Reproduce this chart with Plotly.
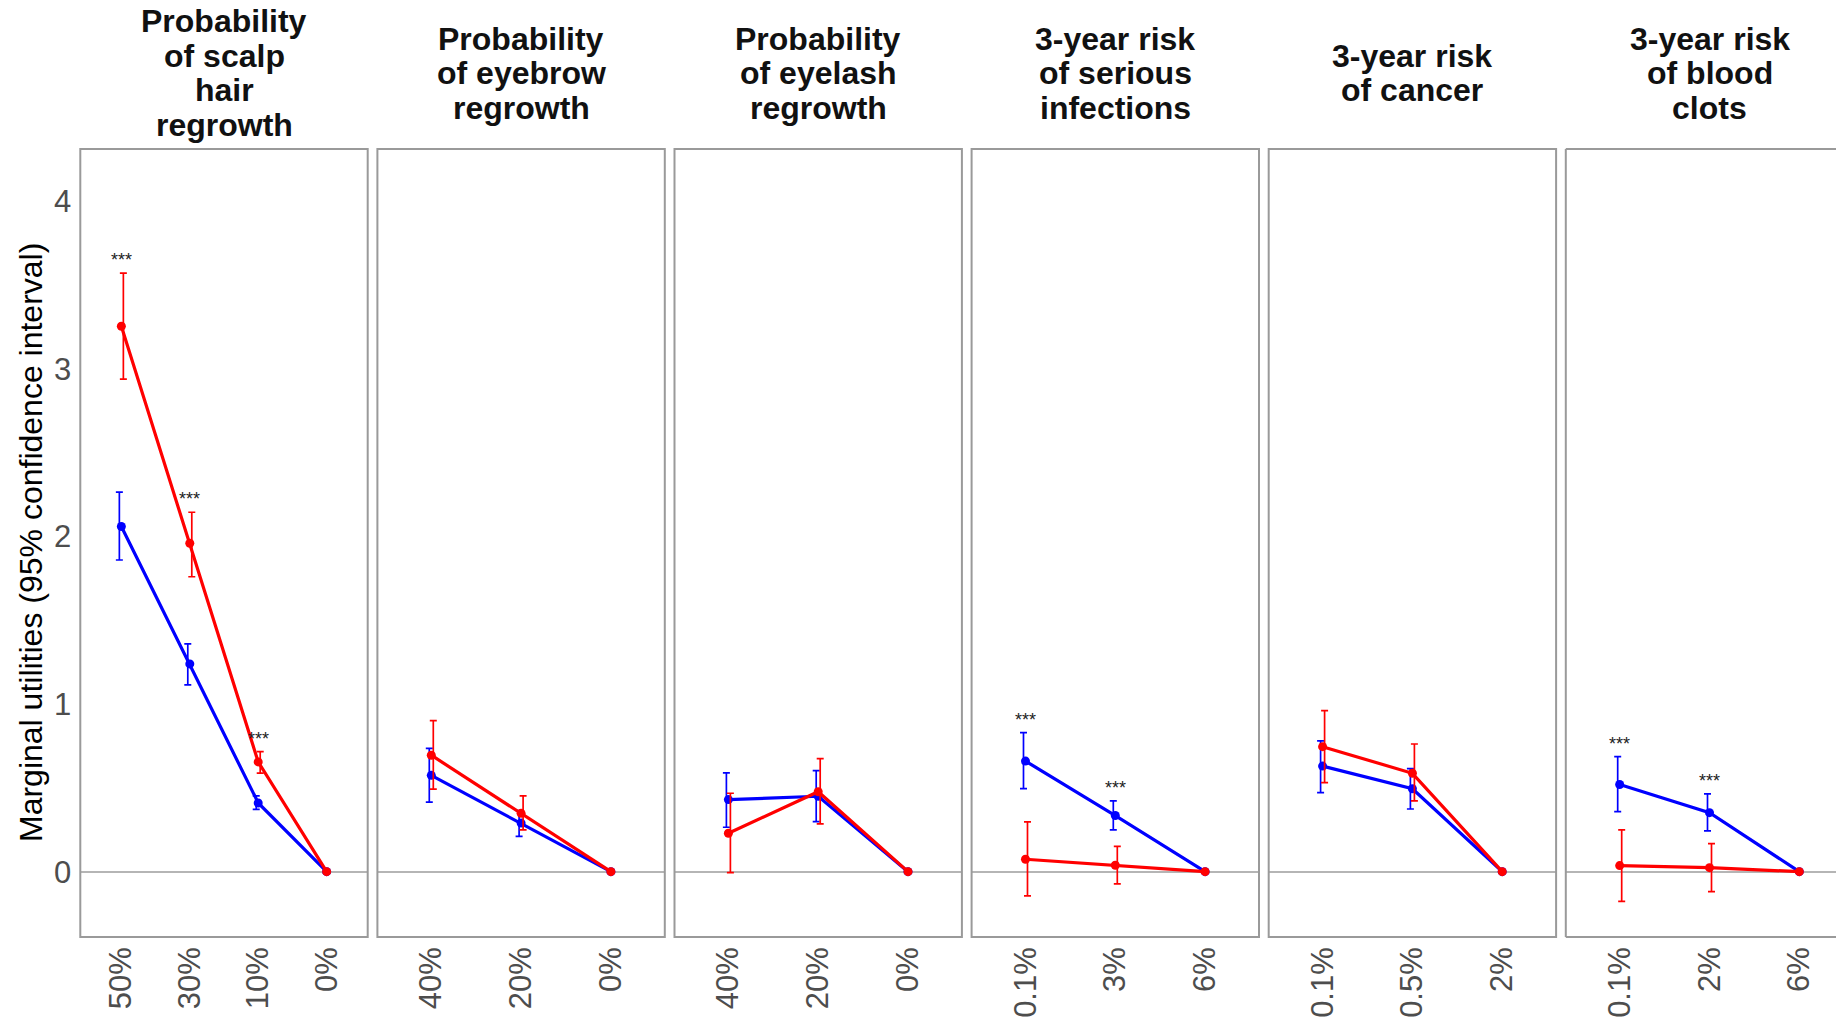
import plotly.graph_objects as go

# ---------------- data ----------------
title_lines = [
    ["Probability", "of scalp", "hair", "regrowth"],
    ["Probability", "of eyebrow", "regrowth"],
    ["Probability", "of eyelash", "regrowth"],
    ["3-year risk", "of serious", "infections"],
    ["3-year risk", "of cancer"],
    ["3-year risk", "of blood", "clots"],
]
levels = [
    ["50%", "30%", "10%", "0%"],
    ["40%", "20%", "0%"],
    ["40%", "20%", "0%"],
    ["0.1%", "3%", "6%"],
    ["0.1%", "0.5%", "2%"],
    ["0.1%", "2%", "6%"],
]
blue_est = [[2.06, 1.24, 0.41, 0.0], [0.575, 0.29, 0.0], [0.43, 0.45, 0.0],
            [0.66, 0.335, 0.0], [0.63, 0.495, 0.0], [0.52, 0.352, 0.0]]
blue_lo = [[1.86, 1.115, 0.372, 0.0], [0.415, 0.21, 0.0], [0.265, 0.298, 0.0],
           [0.496, 0.249, 0.0], [0.472, 0.374, 0.0], [0.358, 0.243, 0.0]]
blue_hi = [[2.265, 1.36, 0.452, 0.0], [0.736, 0.365, 0.0], [0.59, 0.603, 0.0],
           [0.83, 0.422, 0.0], [0.78, 0.615, 0.0], [0.687, 0.464, 0.0]]
red_est = [[3.255, 1.96, 0.655, 0.0], [0.695, 0.348, 0.0], [0.229, 0.477, 0.0],
           [0.074, 0.038, 0.0], [0.746, 0.587, 0.0], [0.036, 0.024, 0.0]]
red_lo = [[2.94, 1.76, 0.588, 0.0], [0.492, 0.249, 0.0], [-0.006, 0.285, 0.0],
          [-0.145, -0.073, 0.0], [0.531, 0.422, 0.0], [-0.177, -0.119, 0.0]]
red_hi = [[3.572, 2.145, 0.716, 0.0], [0.901, 0.452, 0.0], [0.468, 0.675, 0.0],
          [0.297, 0.151, 0.0], [0.961, 0.762, 0.0], [0.249, 0.167, 0.0]]
sig = [["***", "***", "***", ""], ["", "", ""], ["", "", ""],
       ["***", "***", ""], ["", "", ""], ["***", "***", ""]]
y_ticks = [0, 1, 2, 3, 4]
y_title = "Marginal utilities (95% confidence interval)"

# ---------------- layout constants (pixels) ----------------
W, H = 1836, 1022
ML, MR, MT, MB = 80, 0, 149, 85
PW, PH = W - ML - MR, H - MT - MB
PANEL_LEFT0, PANEL_STEP, PANEL_W = 80.3, 297.1, 287.4
Y_RANGE = [-0.390, 4.313]
EXPAND = 0.6
FONT = "Liberation Sans, Arial, sans-serif"
BLUE, RED = "#0000FF", "#FF0000"
BORDER = "#9a9a9a"
DODGE_PX = 2.0


def px_x(X):
    return (X - ML) / PW


def px_y(Y):
    return (H - MB - Y) / PH


fig = go.Figure()
annotations = []
shapes = []
n_panels = len(levels)

for i in range(n_panels):
    n = len(levels[i])
    ax = "" if i == 0 else str(i + 1)
    left = PANEL_LEFT0 + i * PANEL_STEP
    right = left + PANEL_W
    ppu = PANEL_W / (n - 1 + 2 * EXPAND)  # pixels per category unit
    xr = [1 - EXPAND, n + EXPAND]
    last = i == n_panels - 1
    if last:
        right = W
        xr = [1 - EXPAND, 1 - EXPAND + (right - left) / ppu]
    dom = [px_x(left), min(1.0, px_x(right))]
    xs = list(range(1, n + 1))
    dodge = DODGE_PX / ppu

    for color, est, lo, hi, sgn in [
        (BLUE, blue_est[i], blue_lo[i], blue_hi[i], -1),
        (RED, red_est[i], red_lo[i], red_hi[i], 1),
    ]:
        idx = [k for k in range(n) if hi[k] != lo[k]]
        fig.add_trace(go.Scatter(
            x=[xs[k] + sgn * dodge for k in idx],
            y=[est[k] for k in idx],
            mode="markers",
            marker=dict(size=1, opacity=0),
            error_y=dict(type="data", symmetric=False,
                         array=[hi[k] - est[k] for k in idx],
                         arrayminus=[est[k] - lo[k] for k in idx],
                         color=color, thickness=1.7, width=3.5),
            xaxis="x" + ax, yaxis="y" + ax, showlegend=False, hoverinfo="skip",
        ))
        fig.add_trace(go.Scatter(
            x=xs, y=est, mode="lines+markers",
            line=dict(color=color, width=3.2),
            marker=dict(color=color, size=9),
            xaxis="x" + ax, yaxis="y" + ax, showlegend=False,
        ))

    # significance stars
    for k in range(n):
        if sig[i][k]:
            top = max(blue_hi[i][k], red_hi[i][k])
            annotations.append(dict(
                x=xs[k], y=top, xref="x" + ax, yref="y" + ax,
                text=sig[i][k], showarrow=False, yanchor="middle",
                yshift=13, font=dict(family=FONT, size=18, color="#222222"),
            ))

    # panel titles (one annotation per line for tight line spacing)
    lines = title_lines[i]
    centre_x = px_x(left + PANEL_W / 2)
    for j, line in enumerate(lines):
        cy = 73 + (j - (len(lines) - 1) / 2) * 34.5
        annotations.append(dict(
            x=centre_x, y=px_y(cy), xref="paper", yref="paper",
            text=line, showarrow=False, xanchor="center", yanchor="middle",
            font=dict(family=FONT, size=32, color="#111111", weight="bold"),
        ))

    # panel border
    if not last:
        shapes.append(dict(type="rect", xref="x" + ax + " domain", yref="y" + ax + " domain",
                           x0=0, x1=1, y0=0, y1=1, line=dict(color=BORDER, width=2)))
    else:
        for (x0, y0, x1, y1) in [(0, 0, 0, 1), (0, 0, 1, 0), (0, 1, 1, 1)]:
            shapes.append(dict(type="line", xref="x" + ax + " domain", yref="y" + ax + " domain",
                               x0=x0, x1=x1, y0=y0, y1=y1, line=dict(color=BORDER, width=2)))

    fig.update_layout(**{
        "xaxis" + ax: dict(
            domain=dom, range=xr, tickmode="array", tickvals=xs, ticktext=levels[i],
            tickangle=-90, showgrid=False, zeroline=False, showline=False, ticks="",
            tickfont=dict(family=FONT, size=31, color="#4d4d4d"),
            ticklabelstandoff=3, anchor="y" + ax, fixedrange=True,
        ),
        "yaxis" + ax: dict(
            domain=[0, 1], range=Y_RANGE, showgrid=False, zeroline=True,
            zerolinecolor="#b5b5b5", zerolinewidth=2, showline=False, ticks="",
            tickmode="array", tickvals=y_ticks, ticktext=[str(t) for t in y_ticks],
            showticklabels=(i == 0), ticklabelstandoff=8,
            tickfont=dict(family=FONT, size=31, color="#4d4d4d"),
            anchor="x" + ax, fixedrange=True,
        ),
    })

annotations.append(dict(
    x=px_x(31), y=0.5, xref="paper", yref="paper", text=y_title,
    textangle=-90, showarrow=False, xanchor="center", yanchor="middle",
    font=dict(family=FONT, size=32, color="#000000"),
))

fig.update_layout(
    width=W, height=H,
    margin=dict(l=ML, r=MR, t=MT, b=MB, pad=0),
    paper_bgcolor="white", plot_bgcolor="white",
    annotations=annotations, shapes=shapes,
    showlegend=False,
)

fig.write_html("out.html", config={"displayModeBar": False})
